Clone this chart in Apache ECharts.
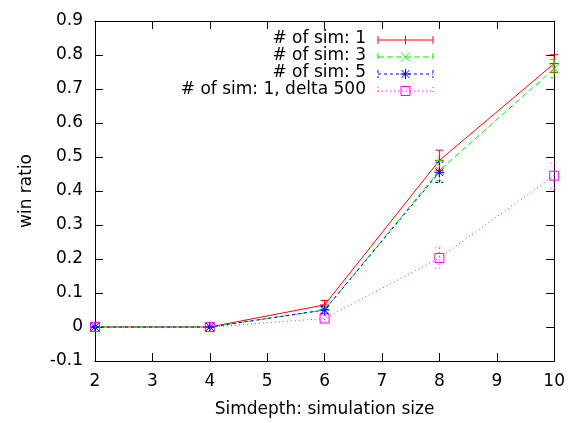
<!DOCTYPE html>
<html>
<head>
<meta charset="utf-8">
<script src="https://cdn.jsdelivr.net/npm/echarts@6/dist/echarts.min.js"></script>
<style>
  html, body { margin: 0; padding: 0; background: #fff; }
  #chart { width: 568px; height: 423px; }
</style>
</head>
<body>
<div id="chart"></div>
<script>
// Simulation depth on the x axis
const depths = [2, 4, 6, 8, 10];

// Win ratio per configuration, with the half-width of each error bar
const sim1 = [0, 0, 0.065, 0.49, 0.775];
const sim1Err = [0, 0, 0.013, 0.03, 0.026];
const sim3 = [0, 0, 0.05, 0.46, 0.76];
const sim3Err = [0, 0, 0.01, 0.03, 0.027];
const sim5 = [0, 0, 0.05, 0.455];
const sim5Err = [0, 0, 0.01, 0.03];
const delta500 = [0, 0, 0.025, 0.203, 0.445];
const delta500Err = [0, 0, 0.01, 0.03, 0.037];

const seriesNames = ['# of sim: 1', '# of sim: 3', '# of sim: 5', '# of sim: 1, delta 500'];

const FONT = '"DejaVu Sans", Arial, Helvetica, sans-serif';
const FS = 17;
const styles = [
  { color: '#ff0000', dash: null,   symbol: 'path://M5,0 L5,10 M0,5 L10,5', size: 9 },
  { color: '#00f000', dash: [6, 3], symbol: 'path://M0,0 L10,10 M10,0 L0,10', size: 9 },
  { color: '#0000ff', dash: [3, 3], symbol: 'path://M5,0 L5,10 M0,5 L10,5 M1,1 L9,9 M9,1 L1,9', size: 10 },
  { color: '#ff00ff', dash: [1, 3], symbol: 'path://M0,0 L10,0 L10,10 L0,10 Z', size: 9 }
];
const values = [sim1, sim3, sim5, delta500];
const errors = [sim1Err, sim3Err, sim5Err, delta500Err];

function pairs(vals) { return vals.map((v, i) => [depths[i], v]); }
function triples(vals, errs) { return vals.map((v, i) => [depths[i], v, errs[i]]); }

const series = [];
values.forEach((vals, k) => {
  const st = styles[k];
  series.push({
    name: seriesNames[k],
    type: 'line',
    data: pairs(vals),
    symbol: st.symbol,
    symbolSize: st.size,
    showAllSymbol: true,
    animation: false,
    lineStyle: { color: st.color, width: 1, type: st.dash || 'solid' },
    itemStyle: { color: 'rgba(0,0,0,0)', borderColor: st.color, borderWidth: 1 },
    emphasis: { disabled: true },
    z: 3 + k
  });
  series.push({
    name: seriesNames[k] + ' err',
    type: 'custom',
    data: triples(vals, errors[k]),
    animation: false,
    z: 3 + k,
    renderItem: function (params, api) {
      const x = api.value(0), v = api.value(1), e = api.value(2);
      const top = api.coord([x, v + e]);
      const bot = api.coord([x, v - e]);
      const cap = 4;
      const style = { stroke: st.color, lineWidth: 1, lineDash: st.dash, fill: null };
      return {
        type: 'group',
        children: [
          { type: 'line', shape: { x1: top[0], y1: top[1], x2: bot[0], y2: bot[1] }, style: style },
          { type: 'line', shape: { x1: top[0] - cap, y1: top[1], x2: top[0] + cap, y2: top[1] }, style: style },
          { type: 'line', shape: { x1: bot[0] - cap, y1: bot[1], x2: bot[0] + cap, y2: bot[1] }, style: style }
        ]
      };
    }
  });
});

// Key in the top area: label, then a sample line with end caps and the marker
const legendGraphics = [];
const keyTextRight = 366, keyX1 = 378, keyX2 = 433, keyTop = 40, keyStep = 17;
styles.forEach((st, k) => {
  const y = keyTop + k * keyStep;
  const style = { stroke: st.color, lineWidth: 1, lineDash: st.dash, fill: null };
  legendGraphics.push({
    type: 'text', right: 568 - keyTextRight, top: y - 10,
    style: { text: seriesNames[k], font: FS + 'px ' + FONT, fill: '#000', textAlign: 'right' }
  });
  legendGraphics.push({ type: 'line', shape: { x1: keyX1, y1: y, x2: keyX2, y2: y }, style: style });
  legendGraphics.push({ type: 'line', shape: { x1: keyX1, y1: y - 4, x2: keyX1, y2: y + 4 }, style: style });
  legendGraphics.push({ type: 'line', shape: { x1: keyX2, y1: y - 4, x2: keyX2, y2: y + 4 }, style: style });
});
// markers in the key
const keyMid = 405.5;
legendGraphics.push({ type: 'line', shape: { x1: keyMid, y1: keyTop - 4.5, x2: keyMid, y2: keyTop + 4.5 }, style: { stroke: styles[0].color, lineWidth: 1 } });
legendGraphics.push({ type: 'line', shape: { x1: keyMid - 4.5, y1: keyTop + keyStep - 4.5, x2: keyMid + 4.5, y2: keyTop + keyStep + 4.5 }, style: { stroke: styles[1].color, lineWidth: 1 } });
legendGraphics.push({ type: 'line', shape: { x1: keyMid + 4.5, y1: keyTop + keyStep - 4.5, x2: keyMid - 4.5, y2: keyTop + keyStep + 4.5 }, style: { stroke: styles[1].color, lineWidth: 1 } });
(function () {
  const y = keyTop + 2 * keyStep, c = styles[2].color;
  [[0, -5, 0, 5], [-5, 0, 5, 0], [-4, -4, 4, 4], [4, -4, -4, 4]].forEach(s => {
    legendGraphics.push({ type: 'line', shape: { x1: keyMid + s[0], y1: y + s[1], x2: keyMid + s[2], y2: y + s[3] }, style: { stroke: c, lineWidth: 1 } });
  });
  const y4 = keyTop + 3 * keyStep;
  legendGraphics.push({ type: 'rect', shape: { x: keyMid - 4.5, y: y4 - 4.5, width: 9, height: 9 }, style: { stroke: styles[3].color, lineWidth: 1, fill: null } });
})();

const axisLabelStyle = { color: '#000', fontSize: FS, fontFamily: FONT };

const option = {
  backgroundColor: '#fff',
  animation: false,
  grid: { left: 95, right: 13, top: 21, bottom: 61, show: false },
  xAxis: [
    {
      type: 'value', min: 2, max: 10, interval: 1, position: 'bottom',
      name: 'Simdepth: simulation size', nameLocation: 'middle', nameGap: 40,
      nameTextStyle: { color: '#000', fontSize: FS, fontFamily: FONT },
      axisLine: { show: true, onZero: false, lineStyle: { color: '#000', width: 1 } },
      axisTick: { show: true, inside: true, length: 8, lineStyle: { color: '#000' } },
      axisLabel: Object.assign({ margin: 12 }, axisLabelStyle),
      splitLine: { show: false }
    },
    {
      type: 'value', min: 2, max: 10, interval: 1, position: 'top',
      axisLine: { show: true, onZero: false, lineStyle: { color: '#000', width: 1 } },
      axisTick: { show: true, inside: true, length: 8, lineStyle: { color: '#000' } },
      axisLabel: { show: false },
      splitLine: { show: false }
    }
  ],
  yAxis: [
    {
      type: 'value', min: -0.1, max: 0.9, interval: 0.1, position: 'left',
      name: 'win ratio', nameLocation: 'middle', nameGap: 60, nameRotate: 90,
      nameTextStyle: { color: '#000', fontSize: FS, fontFamily: FONT },
      axisLine: { show: true, onZero: false, lineStyle: { color: '#000', width: 1 } },
      axisTick: { show: true, inside: true, length: 8, lineStyle: { color: '#000' } },
      axisLabel: Object.assign({ margin: 12, formatter: v => String(Math.round(v * 10) / 10) }, axisLabelStyle),
      splitLine: { show: false }
    },
    {
      type: 'value', min: -0.1, max: 0.9, interval: 0.1, position: 'right',
      axisLine: { show: true, onZero: false, lineStyle: { color: '#000', width: 1 } },
      axisTick: { show: true, inside: true, length: 8, lineStyle: { color: '#000' } },
      axisLabel: { show: false },
      splitLine: { show: false }
    }
  ],
  graphic: legendGraphics,
  series: series
};

const chart = echarts.init(document.getElementById('chart'), null, { renderer: 'canvas' });
chart.setOption(option);
</script>
</body>
</html>
